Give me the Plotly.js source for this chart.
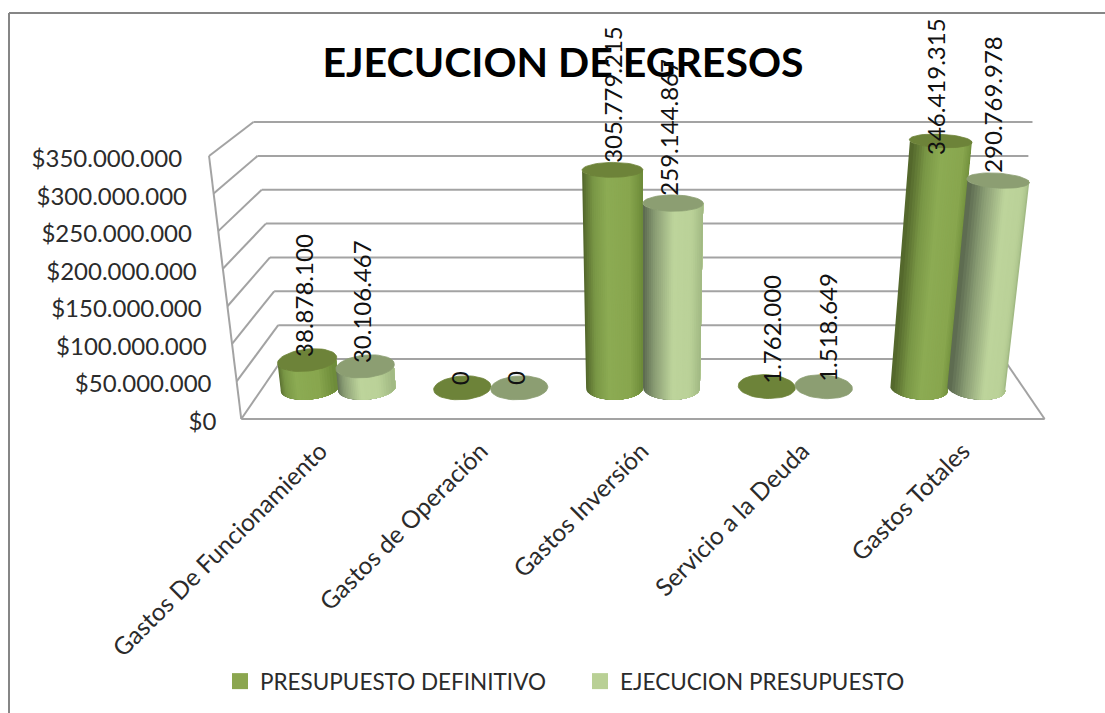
<!DOCTYPE html>
<html><head><meta charset="utf-8">
<script src="https://cdn.plot.ly/plotly-3.0.1.min.js"></script>
<style>html,body{margin:0;padding:0;background:#fff}#chart{width:1105px;height:713px}</style>
</head><body><div id="chart"></div>
<script>
// ---- data ----
const categories = ["Gastos De Funcionamiento","Gastos de Operación","Gastos Inversión","Servicio a la Deuda","Gastos Totales"];
const presupuestoDefinitivo = [38878100, 0, 305779215, 1762000, 346419315];
const ejecucionPresupuesto = [30106467, 0, 259144867, 1518649, 290769978];
const seriesNames = ["PRESUPUESTO DEFINITIVO","EJECUCION PRESUPUESTO"];
const axisTicks = [0,50000000,100000000,150000000,200000000,250000000,300000000,350000000];
const chartTitle = "EJECUCION DE EGRESOS";

// ---- styling ----
const FONT = "Lato, Carlito, Calibri, sans-serif";
const gradients = [
  [[0,[80,100,42]],[0.2,[122,152,70]],[0.42,[140,171,83]],[0.78,[136,166,78]],[1,[108,138,56]]],
  [[0,[90,104,78]],[0.2,[138,157,116]],[0.5,[189,212,155]],[0.8,[186,209,152]],[1,[160,184,130]]]
];
const capColors = ["#6d8339","#8c9e72"];
const legendColors = ["#8ba64f","#b9d095"];
const gridColor = "#a3a3a3";
const BANDS = 30, CIRCLE_STEPS = 48, ARC_STEPS = 16;
const OFFSET = 0.187, RADIUS_X = 0.187, RADIUS_D = 0.2, AXIS_MAX = 350000000, MID_DEPTH = 0.52;

// oblique one-point perspective: (category position, depth 0..1, value) -> axis coordinates
const VP = 2.0066;
function project(u, d, v){
  const s = 1.0536 - 0.1076*d;
  return [VP + (u-VP)*s*(1 + 0.08*v/AXIS_MAX), 79.85e6*d + (1-0.099*d)*v];
}
function mix(stops,t){
  for(let i=1;i<stops.length;i++){
    if(t<=stops[i][0]){
      const a=stops[i-1],b=stops[i],k=(t-a[0])/(b[0]-a[0]);
      return "rgb("+a[1].map((c,j)=>Math.round(c+(b[1][j]-c)*k)).join(",")+")";
    }
  }
  return "rgb("+stops[stops.length-1][1].join(",")+")";
}

const traces = [];
// walls and floor
(function(){
  const x=[],y=[];
  const add=(a,b)=>{x.push(a[0],b[0],null);y.push(a[1],b[1],null);};
  axisTicks.forEach(v=>{
    add(project(-0.5,0,v),project(-0.5,1,v));
    add(project(-0.5,1,v),project(4.5,1,v));
  });
  add(project(-0.5,0,0),project(-0.5,0,AXIS_MAX));
  add(project(-0.5,0,0),project(4.5,0,0));
  add(project(4.5,0,0),project(4.5,1,0));
  traces.push({type:"scatter",mode:"lines",x,y,line:{color:gridColor,width:2},hoverinfo:"skip",showlegend:false});
})();

// cylinders: painted left to right, each band reaching the right rim so that no seams appear
[presupuestoDefinitivo,ejecucionPresupuesto].forEach((values,s)=>{
  const off = s===0 ? -OFFSET : OFFSET;
  for(let b=0;b<BANDS;b++){
    const t0=Math.acos(-1+2*b/BANDS);
    const x=[],y=[];
    values.forEach((v,i)=>{
      if(v<=2000000) return;
      const u=i+off;
      const rim=(t,val)=>project(u+RADIUS_X*Math.cos(t),MID_DEPTH-RADIUS_D*Math.sin(t),val);
      const pts=[];
      for(let k=0;k<=ARC_STEPS;k++) pts.push(rim(t0*(1-k/ARC_STEPS),0));
      for(let k=ARC_STEPS;k>=0;k--) pts.push(rim(t0*(1-k/ARC_STEPS),v));
      pts.push(pts[0]);
      pts.forEach(p=>{x.push(p[0]);y.push(p[1]);});
      x.push(null);y.push(null);
    });
    const color=mix(gradients[s],(b+0.5)/BANDS);
    traces.push({type:"scatter",mode:"lines",x,y,fill:"toself",fillcolor:color,line:{color,width:0},hoverinfo:"skip",showlegend:false});
  }
  const x=[],y=[];
  values.forEach((v,i)=>{
    const u=i+off;
    for(let k=0;k<=CIRCLE_STEPS;k++){
      const t=2*Math.PI*k/CIRCLE_STEPS;
      const p=project(u+RADIUS_X*Math.cos(t),MID_DEPTH-RADIUS_D*Math.sin(t),v);
      x.push(p[0]);y.push(p[1]);
    }
    x.push(null);y.push(null);
  });
  traces.push({type:"scatter",mode:"lines",x,y,fill:"toself",fillcolor:capColors[s],line:{color:capColors[s],width:0.8},hoverinfo:"skip",showlegend:false});
});

// value axis labels, following the slanted front edge
(function(){
  const pts=axisTicks.map(v=>{const p=project(-0.655,0,v);return [p[0],p[1]-6.6e6];});
  const money=v=>"$"+String(v).replace(/\B(?=(\d{3})+(?!\d))/g,".");
  traces.push({type:"scatter",mode:"text",x:pts.map(p=>p[0]),y:pts.map(p=>p[1]),text:axisTicks.map(money),
    textposition:"middle left",textfont:{family:FONT,size:24,color:"#2b2b2b"},cliponaxis:false,hoverinfo:"skip",showlegend:false});
})();

// legend keys
seriesNames.forEach((name,s)=>{
  traces.push({type:"scatter",mode:"markers",x:[null],y:[null],name,marker:{symbol:"square",size:16,color:legendColors[s]},hoverinfo:"skip",showlegend:true});
});

// data labels
const labelShiftPx = [[2,2,6,2,-15],[2,2,6,4,7]];
const labelXShiftPx = [[-4,-3,0,4,-5],[-3,-4,-4,4,-6]];
const annotations=[];
[presupuestoDefinitivo,ejecucionPresupuesto].forEach((values,s)=>{
  const off = s===0 ? -OFFSET : OFFSET;
  values.forEach((v,i)=>{
    const p=project(i+off,MID_DEPTH,v);
    annotations.push({x:p[0],y:p[1],xref:"x",yref:"y",showarrow:false,textangle:-90,xanchor:"center",yanchor:"bottom",
      text:String(v).replace(/\B(?=(\d{3})+(?!\d))/g,"."),font:{family:FONT,size:24,color:"#111"},
      xshift:labelXShiftPx[s][i],yshift:labelShiftPx[s][i],borderpad:0});
  });
});

const PLOT_BOTTOM=428, W=1105;
const layout={
  width:1105,height:713,paper_bgcolor:"#fff",plot_bgcolor:"rgba(0,0,0,0)",
  margin:{l:0,r:0,t:0,b:713-PLOT_BOTTOM,pad:0,autoexpand:false},
  title:{text:"<b>"+chartTitle+"</b>",font:{family:FONT,size:41,color:"#000"},x:563/W,xanchor:"center",y:1-63/713,yanchor:"middle"},
  xaxis:{range:[-338/152.5,(W-338)/152.5],tickmode:"array",tickvals:categories.map((c,i)=>project(i,0,0)[0]-0.01),ticktext:categories,tickangle:-45,
    tickfont:{family:FONT,size:24.5,color:"#2b2b2b"},showgrid:false,zeroline:false,showline:false,ticks:"",ticklabelstandoff:3,fixedrange:true},
  yaxis:{range:[-11.98e6,557.6e6],visible:false,fixedrange:true},
  showlegend:true,
  legend:{orientation:"h",x:220/W,xanchor:"left",y:(PLOT_BOTTOM-660)/PLOT_BOTTOM,yanchor:"top",font:{family:FONT,size:22.5,color:"#2b2b2b"},
    entrywidth:315,entrywidthmode:"pixels",bgcolor:"rgba(0,0,0,0)",itemclick:false,itemdoubleclick:false,itemwidth:30},
  annotations,
  shapes:[
    {type:"line",xref:"paper",yref:"paper",x0:9/W,x1:1,y0:(PLOT_BOTTOM-13)/PLOT_BOTTOM,y1:(PLOT_BOTTOM-13)/PLOT_BOTTOM,line:{color:"#868686",width:2}},
    {type:"line",xref:"paper",yref:"paper",x0:9/W,x1:9/W,y0:(PLOT_BOTTOM-13)/PLOT_BOTTOM,y1:(PLOT_BOTTOM-713)/PLOT_BOTTOM,line:{color:"#868686",width:2}}
  ]
};
Plotly.newPlot("chart",traces,layout,{displayModeBar:false,staticPlot:true});
</script></body></html>
